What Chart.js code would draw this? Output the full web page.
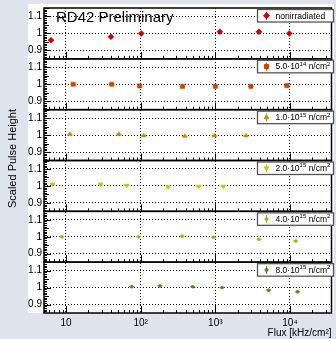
<!DOCTYPE html>
<html>
<head>
<meta charset="utf-8">
<script src="https://cdn.jsdelivr.net/npm/chart.js@4"></script>
<style>
html,body{margin:0;padding:0;background:#dfe3ee;}
#wrap{width:336px;height:339px;position:relative;}
</style>
</head>
<body>
<div id="wrap"><canvas id="c" width="336" height="339"></canvas></div>
<script>
// panels, top to bottom
const panelNames = ['nonirradiated', '5.0', '1.0', '2.0', '4.0', '8.0'];
const panelExps = [null, '14', '15', '15', '15', '15'];
const colors = ['#cc0000', '#cc4400', '#cc8800', '#c8c800', '#99bb11', '#558811'];
const markers = ['rectRot', 'rect', 'triangle', 'triangle', 'circle', 'circle'];
const markerRot = [0, 0, 0, 180, 0, 0];
const markerSize = [3, 3, 2.7, 2.7, 1.5, 1.5];

const flux0 = [6.3, 40, 102, 1150, 3840, 9800];
const ph0 = [0.96, 0.98, 1.0, 1.01, 1.01, 1.0];
const flux1 = [12.5, 41, 97, 363, 1000, 3000, 9100];
const ph1 = [1.0, 1.0, 0.99, 0.987, 0.988, 0.988, 0.992];
const flux2 = [11.3, 51, 110, 390, 970, 2570];
const ph2 = [1.005, 1.005, 0.997, 0.993, 0.997, 0.997];
const flux3 = [6.6, 29, 65, 233, 600, 1280];
const ph3 = [1.01, 1.01, 1.003, 0.995, 0.997, 0.997];
const flux4 = [8.8, 94, 359, 944, 3840, 11900];
const ph4 = [1.0, 1.0, 1.003, 0.997, 0.985, 0.975];
const flux5 = [76, 181, 499, 1230, 5170, 12600];
const ph5 = [1.005, 1.01, 1.005, 1.0, 0.985, 0.975];

const yErr = [0.012, 0.006, 0.005, 0.006, 0.008, 0.008];
const xErrRel = 1.08;

const xTicks = [10, 100, 1000, 10000];
const xTickLabels = ['10', '10²', '10³', '10⁴'];
const yTicks = [0.9, 1, 1.1];

const fluxes = [flux0, flux1, flux2, flux3, flux4, flux5];
const phs = [ph0, ph1, ph2, ph3, ph4, ph5];

const FONT = '"Liberation Sans", Arial, sans-serif';

var datasets = [];
for (var i = 0; i < 6; i++) {
  datasets.push({
    label: panelNames[i],
    data: fluxes[i].map((f, j) => ({x: f, y: phs[i][j]})),
    xAxisID: 'x',
    yAxisID: 'y' + i,
    showLine: false,
    pointStyle: markers[i],
    pointRotation: markerRot[i],
    pointRadius: markerSize[i],
    pointBorderWidth: 0.5,
    backgroundColor: colors[i],
    borderColor: colors[i]
  });
}

var scales = {
  x: {
    type: 'logarithmic', min: 5.08, max: 36000, position: 'bottom',
    afterFit: s => { s.height = 26; },
    afterBuildTicks: s => { s.ticks = xTicks.map(v => ({value: v})); },
    grid: {color: '#000', lineWidth: 1, drawTicks: false},
    border: {display: false, dash: [1, 2]},
    ticks: {
      autoSkip: false, maxRotation: 0, padding: 4, color: '#000',
      font: {family: FONT, size: 10},
      callback: (v) => xTickLabels[xTicks.indexOf(v)]
    },
    title: {display: true, text: 'Flux [kHz/cm²]', align: 'end', color: '#000',
      font: {family: FONT, size: 10}, padding: {top: 0, bottom: 0}}
  }
};
// bottom panel first so that the last one ends on top
for (var k = 5; k >= 0; k--) {
  scales['y' + k] = {
    type: 'linear', min: 0.85, max: 1.15, position: 'left',
    stack: 'panels', stackWeight: 1,
    afterFit: s => { s.width = 44; },
    afterBuildTicks: s => { s.ticks = yTicks.map(v => ({value: v})); },
    grid: {color: '#000', lineWidth: 1, drawTicks: false},
    border: {display: false, dash: [1, 2]},
    ticks: {
      autoSkip: false, padding: 2, color: '#000',
      font: {family: FONT, size: 10},
      callback: v => String(v)
    }
  };
}

const panelPlugin = {
  id: 'panels',
  beforeDraw(chart) {
    const ctx = chart.ctx;
    ctx.save();
    ctx.fillStyle = '#ffffff';
    ctx.fillRect(28, 4, 306, chart.chartArea.bottom - 4);
    ctx.restore();
  },
  beforeDatasetsDraw(chart) {
    const ctx = chart.ctx;
    const xs = chart.scales.x;
    ctx.save();
    ctx.lineWidth = 1;
    chart.data.datasets.forEach((ds, i) => {
      const ys = chart.scales['y' + i];
      ctx.strokeStyle = colors[i];
      ds.data.forEach(p => {
        const px = xs.getPixelForValue(p.x);
        ctx.beginPath();
        ctx.moveTo(px, ys.getPixelForValue(p.y - yErr[i]));
        ctx.lineTo(px, ys.getPixelForValue(p.y + yErr[i]));
        ctx.moveTo(xs.getPixelForValue(p.x / xErrRel), ys.getPixelForValue(p.y));
        ctx.lineTo(xs.getPixelForValue(p.x * xErrRel), ys.getPixelForValue(p.y));
        ctx.stroke();
      });
    });
    ctx.restore();
  },
  afterDraw(chart) {
    const ctx = chart.ctx;
    const ca = chart.chartArea;
    const xs = chart.scales.x;
    ctx.save();
    ctx.strokeStyle = '#000';
    for (var i = 0; i < 6; i++) {
      const s = chart.scales['y' + i];
      // inside ticks on the left edge
      ctx.lineWidth = 1;
      ctx.beginPath();
      for (var t = 86; t <= 115; t++) {
        const py = Math.round(s.getPixelForValue(t / 100)) + 0.5;
        const len = t % 10 === 0 ? 7 : (t % 5 === 0 ? 5 : 3);
        ctx.moveTo(ca.left, py);
        ctx.lineTo(ca.left + len, py);
      }
      // ticks on the bottom edge
      for (var d = 1; d <= 10000; d *= 10) {
        for (var m = 1; m <= 9; m++) {
          const v = d * m;
          if (v < xs.min || v > xs.max) continue;
          const px = Math.round(xs.getPixelForValue(v)) + 0.5;
          ctx.moveTo(px, s.bottom);
          ctx.lineTo(px, s.bottom - (m === 1 ? 7 : 3));
        }
      }
      ctx.stroke();
      ctx.lineWidth = 1.5;
      ctx.strokeRect(ca.left, s.top, ca.right - ca.left, s.bottom - s.top);

      // legend box
      const bw = 76, bh = 12.5;
      const bx = ca.right - 74, by = s.top + 1.5;
      ctx.fillStyle = '#fff';
      ctx.fillRect(bx, by, bw, bh);
      ctx.lineWidth = 1.3;
      ctx.strokeStyle = '#555';
      ctx.strokeRect(bx, by, bw, bh);
      const mx = bx + 9, my = by + bh / 2;
      ctx.strokeStyle = colors[i];
      ctx.lineWidth = 1;
      ctx.beginPath();
      ctx.moveTo(mx, my - 4);
      ctx.lineTo(mx, my + 4);
      ctx.stroke();
      ctx.fillStyle = colors[i];
      ctx.strokeStyle = colors[i];
      Chart.helpers.drawPoint(ctx, {pointStyle: markers[i], radius: markerSize[i], rotation: markerRot[i], borderWidth: 0.5}, mx, my);
      ctx.fillStyle = '#000';
      ctx.textBaseline = 'middle';
      ctx.textAlign = 'left';
      ctx.font = '8.5px ' + FONT;
      var tx = bx + 18;
      if (panelExps[i] === null) {
        ctx.fillText(panelNames[i], tx, my + 0.5);
      } else {
        var txt = panelNames[i] + '·10';
        ctx.fillText(txt, tx, my + 0.5);
        tx += ctx.measureText(txt).width;
        ctx.font = '6px ' + FONT;
        ctx.fillText(panelExps[i], tx, my - 2.5);
        tx += ctx.measureText(panelExps[i]).width;
        ctx.font = '8.5px ' + FONT;
        ctx.fillText(' n/cm', tx, my + 0.5);
        tx += ctx.measureText(' n/cm').width;
        ctx.font = '6px ' + FONT;
        ctx.fillText('2', tx, my - 2.5);
      }
      ctx.strokeStyle = '#000';
    }
    // title text
    ctx.fillStyle = '#000';
    ctx.font = '15px ' + FONT;
    ctx.textAlign = 'left';
    ctx.textBaseline = 'alphabetic';
    ctx.fillText('RD42 Preliminary', 56, 21.5);
    // y axis title
    ctx.translate(13, (ca.top + ca.bottom) / 2 - 2);
    ctx.rotate(-Math.PI / 2);
    ctx.textAlign = 'center';
    ctx.textBaseline = 'middle';
    ctx.font = '11px ' + FONT;
    ctx.fillText('Scaled Pulse Height', 0, 0);
    ctx.restore();
  }
};

new Chart(document.getElementById('c'), {
  type: 'scatter',
  data: {datasets: datasets},
  options: {
    responsive: false,
    animation: false,
    devicePixelRatio: 1,
    layout: {padding: {left: 0, right: 4, top: 5, bottom: 0}},
    scales: scales,
    plugins: {legend: {display: false}, tooltip: {enabled: false}}
  },
  plugins: [panelPlugin]
});
</script>
</body>
</html>
